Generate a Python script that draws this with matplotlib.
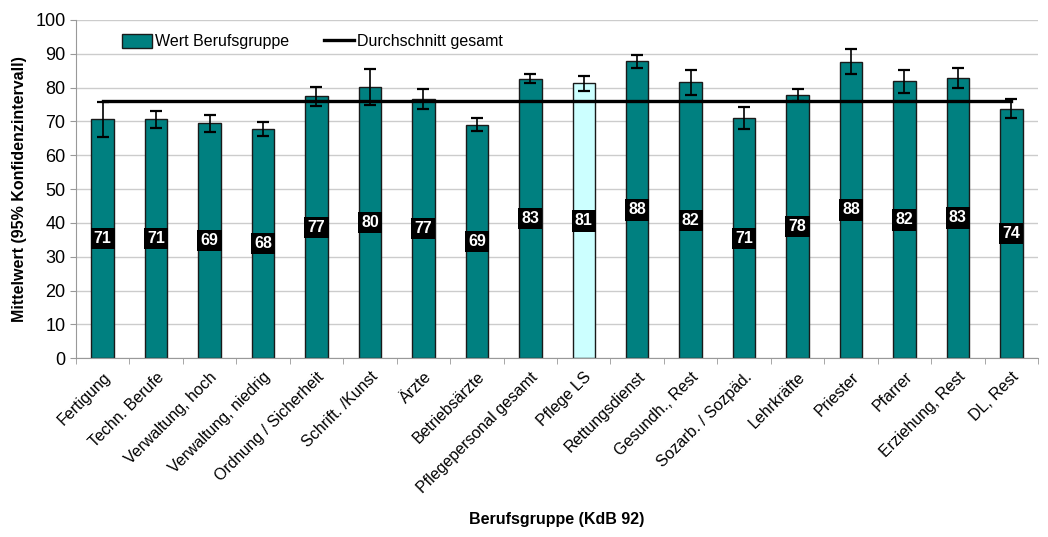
import matplotlib
matplotlib.use("Agg")
import matplotlib.pyplot as plt
import numpy as np

plt.rcParams['font.family'] = ['Liberation Sans', 'DejaVu Sans']

categories = ["Fertigung", "Techn. Berufe", "Verwaltung, hoch", "Verwaltung, niedrig",
              "Ordnung / Sicherheit", "Schrift. /Kunst", "Ärzte", "Betriebsärzte",
              "Pflegepersonal gesamt", "Pflege LS", "Rettungsdienst", "Gesundh., Rest",
              "Sozarb. / Sozpäd.", "Lehrkräfte", "Priester", "Pfarrer", "Erziehung, Rest",
              "DL, Rest"]
values = [70.6, 70.6, 69.4, 67.8, 77.4, 80.1, 76.6, 69.0, 82.6, 81.2,
          87.7, 81.5, 70.9, 77.8, 87.6, 81.8, 82.9, 73.7]
ci = [5.2, 2.5, 2.4, 2.1, 2.9, 5.4, 3.0, 1.9, 1.3, 2.3,
      1.8, 3.7, 3.3, 1.7, 3.7, 3.4, 3.0, 2.8]
overall_mean = 76.0
highlight = "Pflege LS"

teal = "#008080"
light = "#ccffff"

fig = plt.figure(figsize=(10.48, 5.37), dpi=100)
ax = fig.add_axes([0.0725, 0.333, 0.918, 0.630])

x = np.arange(len(categories))
colors = [light if c == highlight else teal for c in categories]
bars = ax.bar(x, values, width=0.42, color=colors, edgecolor="#1a1a1a", linewidth=1.0,
              zorder=2)
ax.errorbar(x, values, yerr=ci, fmt="none", ecolor="black", elinewidth=1.2,
            capsize=4, capthick=1.6, zorder=4)
line, = ax.plot(x, [overall_mean] * len(x), color="black", linewidth=2.4, zorder=3)

for xi, v in zip(x, values):
    ax.text(xi, v / 2, f"{v:.0f}", ha="center", va="center", color="white",
            fontsize=11.5, fontweight="bold", zorder=5,
            bbox=dict(boxstyle="square,pad=0.2", facecolor="black", edgecolor="none"))

ax.set_xlim(-0.5, len(categories) - 0.5)
ax.set_ylim(0, 100)
ax.set_yticks(np.arange(0, 101, 10))
ax.yaxis.grid(True, color="#cccccc", linewidth=1.0, zorder=0)
ax.set_axisbelow(True)

ax.set_xticks(x)
ax.set_xticklabels(categories, rotation=45, ha="right", rotation_mode="anchor",
                   fontsize=11.5)
ax.tick_params(axis="x", length=0, pad=8)
ax.set_xticks(np.arange(-0.5, len(categories), 1), minor=True)
ax.tick_params(axis="x", which="minor", length=4, color="#999999")
ax.tick_params(axis="y", length=4, color="#999999", labelsize=13)

for s in ["top", "right"]:
    ax.spines[s].set_visible(False)
for s in ["left", "bottom"]:
    ax.spines[s].set_color("#999999")

ax.set_ylabel("Mittelwert (95% Konfidenzintervall)", fontsize=11.5, fontweight="bold",
              labelpad=6)
ax.set_xlabel("Berufsgruppe (KdB 92)", fontsize=11.5, fontweight="bold")
ax.xaxis.set_label_coords(0.5, -0.455)

ax.legend([bars, line], ["Wert Berufsgruppe", "Durchschnitt gesamt"],
          loc="upper left", bbox_to_anchor=(0.033, 1.0), ncol=2, frameon=False,
          fontsize=11.5, handlelength=1.9, handleheight=0.9, columnspacing=2.2,
          handletextpad=0.15)

fig.savefig("out.png", dpi=100)
